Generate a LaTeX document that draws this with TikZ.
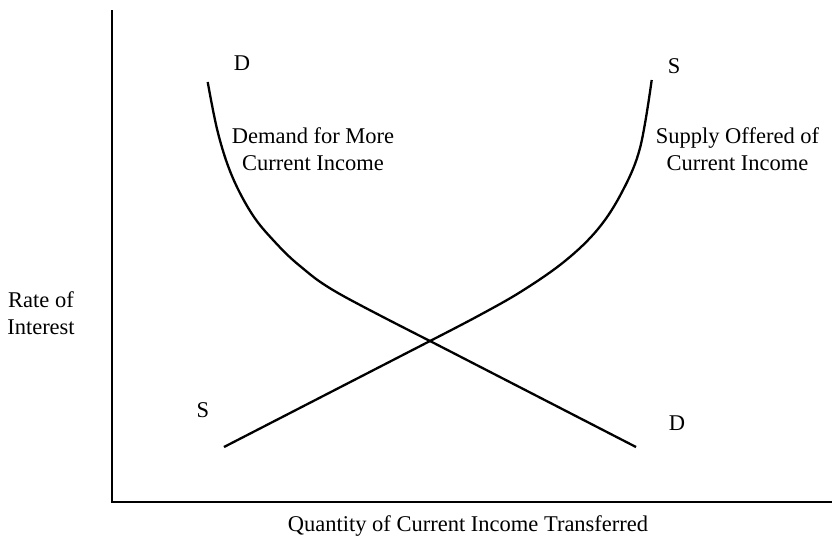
\documentclass[tikz,border=0pt]{standalone}
\usepackage{fontspec}
\setmainfont{Liberation Serif}
\begin{document}
\begin{tikzpicture}[x=1pt,y=-1pt,
  lbl/.style={font=\fontsize{22.5}{26.5}\selectfont, inner sep=0pt, align=center},
  axis/.style={line width=2.6pt},
  curve/.style={line width=2.3pt, line join=round}]
\useasboundingbox (0,0) rectangle (832,539);
% axes
\coordinate (top) at (112,10);
\coordinate (orig) at (112,502);
\coordinate (right) at (832,502);
\draw[axis] (top) -- (orig) -- (right);
% demand curve
\coordinate (d1) at (207.7,82);
\coordinate (dx) at (430,341);
\coordinate (d2) at (636,447);
\draw[curve] plot[smooth, tension=0.6] coordinates {(207.7,82) (218,133) (232,176) (252,214) (274,241) (300,266) (338,293) (430,341)} -- (d2);
% supply curve
\coordinate (s1) at (224,447);
\draw[curve] (s1) -- (dx) plot[smooth, tension=0.6] coordinates {(430,341) (478,316) (522,291) (565,261) (598,229) (622,192) (640,148) (651.7,80)};
% labels
\node[lbl] (Dtop) at (242,63.5) {D};
\node[lbl] (Stop) at (674,66.5) {S};
\node[lbl] (Sbot) at (203,410) {S};
\node[lbl] (Dbot) at (677,423) {D};
\node[lbl] (dem) at (313,149) {Demand for More\\Current Income};
\node[lbl] (sup) at (737.5,149) {Supply Offered of\\Current Income};
\node[lbl] (rate) at (41,313) {Rate of\\Interest};
\node[lbl] (qty) at (468,526) {Quantity of Current Income Transferred};
\end{tikzpicture}
\end{document}
